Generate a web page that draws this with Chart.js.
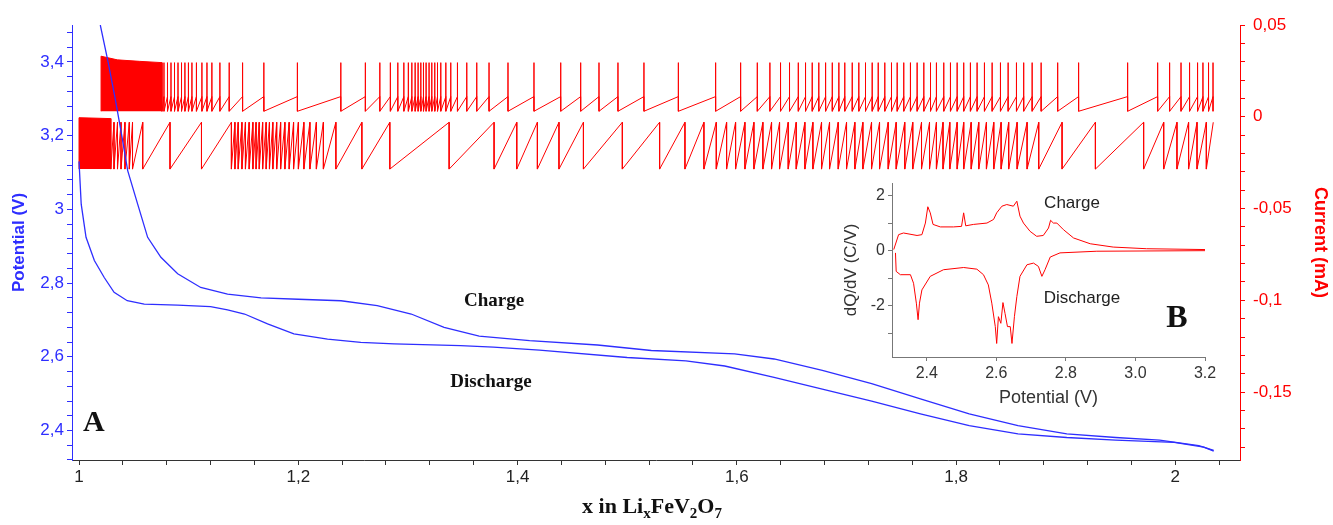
<!DOCTYPE html>
<html>
<head>
<meta charset="utf-8">
<script src="https://cdn.jsdelivr.net/npm/chart.js@4.4.1/dist/chart.umd.min.js"></script>
<style>
  html, body { margin: 0; padding: 0; background: #fff; }
  #wrap { position: relative; width: 1333px; height: 525px; }
  #main { position: absolute; left: 0; top: 0; }
  #inset { position: absolute; left: 835px; top: 170px; }
</style>
</head>
<body>
<div id="wrap">
  <canvas id="main" width="1333" height="525"></canvas>
  <canvas id="inset" width="385" height="245"></canvas>
</div>
<script>
// potential profiles, x in LixFeV2O7 vs V
const chargeX = [1.0194, 1.0265, 1.0330, 1.0390, 1.0444, 1.0535, 1.0626, 1.0747, 1.090, 1.111, 1.1355, 1.166, 1.200, 1.239, 1.272, 1.303, 1.333, 1.365, 1.411, 1.473, 1.522, 1.598, 1.634, 1.678, 1.723, 1.7675, 1.812, 1.8565, 1.901, 1.9456, 1.9857, 2.0214, 2.035];
const chargeV = [3.50, 3.40, 3.30, 3.20, 3.105, 3.014, 2.924, 2.870, 2.825, 2.788, 2.770, 2.760, 2.756, 2.752, 2.739, 2.716, 2.680, 2.656, 2.644, 2.632, 2.617, 2.608, 2.594, 2.563, 2.527, 2.486, 2.445, 2.413, 2.391, 2.381, 2.374, 2.359, 2.346];
const dischargeX = [1.000, 1.002, 1.0064, 1.014, 1.023, 1.032, 1.044, 1.0595, 1.090, 1.120, 1.1355, 1.151, 1.172, 1.196, 1.2267, 1.257, 1.2875, 1.348, 1.378, 1.420, 1.500, 1.5536, 1.589, 1.634, 1.678, 1.723, 1.7675, 1.812, 1.8565, 1.901, 1.9456, 1.999, 2.026, 2.035];
const dischargeV = [3.13, 3.014, 2.924, 2.861, 2.815, 2.775, 2.752, 2.743, 2.740, 2.736, 2.727, 2.716, 2.689, 2.662, 2.648, 2.639, 2.635, 2.630, 2.626, 2.618, 2.598, 2.589, 2.575, 2.544, 2.512, 2.480, 2.445, 2.413, 2.391, 2.381, 2.374, 2.368, 2.355, 2.344];

// GITT current pulses (mA): dense start blocks, then one entry per pulse
const chargeBlockX = [1.0201, 1.0201, 1.035, 1.055, 1.0757, 1.0757];
const chargeBlockI = [0.003, 0.033, 0.031, 0.0302, 0.0295, 0.003];
const dischargeBlockX = [1.000, 1.000, 1.029, 1.029];
const dischargeBlockI = [-0.0285, -0.0005, -0.001, -0.0285];

const chargePulseX = [1.0775, 1.0807, 1.0839, 1.0871, 1.0903, 1.0935, 1.0966, 1.0998, 1.1030, 1.1071, 1.1121, 1.1167, 1.1212, 1.1285, 1.1370, 1.1492, 1.1686, 1.1992, 1.2388, 1.2612, 1.2744, 1.2840, 1.2908, 1.2963, 1.3004, 1.3036, 1.3066, 1.3093, 1.3118, 1.3142, 1.3166, 1.3193, 1.3218, 1.3245, 1.3270, 1.3300, 1.3346, 1.3391, 1.3452, 1.3537, 1.3628, 1.3740, 1.3913, 1.4150, 1.4394, 1.4576, 1.4743, 1.4916, 1.5153, 1.5467, 1.5807, 1.6035, 1.6187, 1.6302, 1.6399, 1.6481, 1.6561, 1.6627, 1.6688, 1.6748, 1.6810, 1.6871, 1.6931, 1.6985, 1.7053, 1.7113, 1.7174, 1.7235, 1.7290, 1.7350, 1.7411, 1.7463, 1.7523, 1.7584, 1.7645, 1.7706, 1.7767, 1.7821, 1.7888, 1.7949, 1.8010, 1.8070, 1.8131, 1.8192, 1.8259, 1.8329, 1.8405, 1.8475, 1.8551, 1.8617, 1.8694, 1.8776, 1.8927, 1.9118, 1.9565, 1.9839, 1.9948, 2.0052, 2.0130, 2.0203, 2.0252, 2.0303, 2.0344];
const chargeLevels = [0.003, 0.011, 0.0295]; // base, before pulse, pulse top

const dischargePulseX = [1.0319, 1.0351, 1.0383, 1.0419, 1.0459, 1.0488, 1.0581, 1.0830, 1.1117, 1.1390, 1.1422, 1.1452, 1.1486, 1.1518, 1.1552, 1.1586, 1.1615, 1.1644, 1.1675, 1.1707, 1.1737, 1.1768, 1.1803, 1.1839, 1.1878, 1.1917, 1.1957, 1.2001, 1.2051, 1.2106, 1.2165, 1.2229, 1.2343, 1.2580, 1.2835, 1.3376, 1.3786, 1.3993, 1.4181, 1.4378, 1.4601, 1.4956, 1.5296, 1.5527, 1.5700, 1.5813, 1.5907, 1.5989, 1.6074, 1.6156, 1.6238, 1.6317, 1.6390, 1.6469, 1.6542, 1.6621, 1.6694, 1.6773, 1.6846, 1.6925, 1.7001, 1.7077, 1.7150, 1.7229, 1.7302, 1.7381, 1.7454, 1.7532, 1.7605, 1.7685, 1.7758, 1.7821, 1.7881, 1.7943, 1.8010, 1.8070, 1.8138, 1.8207, 1.8277, 1.8344, 1.8411, 1.8480, 1.8557, 1.8648, 1.8754, 1.8967, 1.9271, 1.9711, 1.9894, 2.0015, 2.0121, 2.0198, 2.0283, 2.0346];
const dischargeLevels = [-0.0285, -0.003]; // pulse bottom, relaxed top

// inset B: dQ/dV
const insetChargeV = [2.305, 2.319, 2.333, 2.372, 2.386, 2.396, 2.403, 2.41, 2.418, 2.439, 2.477, 2.500, 2.506, 2.512, 2.534, 2.573, 2.592, 2.601, 2.616, 2.63, 2.649, 2.659, 2.668, 2.678, 2.697, 2.716, 2.735, 2.75, 2.756, 2.764, 2.774, 2.793, 2.822, 2.87, 2.936, 3.032, 3.2];
const insetChargeQ = [0.04, 0.58, 0.64, 0.55, 0.58, 1.0, 1.59, 1.37, 0.95, 0.86, 0.86, 0.88, 1.37, 0.9, 0.95, 1.0, 1.13, 1.37, 1.61, 1.67, 1.61, 1.79, 1.25, 1.0, 0.70, 0.52, 0.55, 0.82, 1.10, 1.0, 1.0, 0.76, 0.46, 0.25, 0.13, 0.07, 0.04];
const insetDischV = [2.31, 2.312, 2.324, 2.353, 2.362, 2.37, 2.375, 2.379, 2.386, 2.41, 2.448, 2.506, 2.544, 2.563, 2.577, 2.587, 2.597, 2.601, 2.606, 2.613, 2.619, 2.625, 2.632, 2.64, 2.645, 2.652, 2.659, 2.668, 2.688, 2.707, 2.721, 2.731, 2.74, 2.755, 2.783, 2.889, 3.2];
const insetDischQ = [-0.08, -0.75, -0.87, -0.87, -1.18, -1.9, -2.5, -1.9, -1.42, -0.93, -0.69, -0.61, -0.67, -0.87, -1.24, -1.9, -2.75, -3.36, -2.39, -2.63, -1.88, -2.27, -2.75, -2.75, -3.36, -2.39, -1.66, -0.93, -0.51, -0.45, -0.57, -0.93, -0.69, -0.23, -0.08, -0.02, 0.0];

const BLUE = '#2e2eff';
const RED = '#ff0000';

function pts(xs, ys) {
  return xs.map((x, i) => ({ x: x, y: ys[i] }));
}

// charge pulses: rise to the pulse, spike, back to base
let chargePulses = [{ x: chargeBlockX[chargeBlockX.length - 1], y: chargeLevels[0] }];
chargePulseX.forEach(x => {
  chargePulses.push({ x: x, y: chargeLevels[1] });
  chargePulses.push({ x: x, y: chargeLevels[2] });
  chargePulses.push({ x: x, y: chargeLevels[0] });
});

// discharge pulses: relax up to the top, then drop
let dischargePulses = [{ x: dischargeBlockX[dischargeBlockX.length - 1], y: dischargeLevels[0] }];
dischargePulseX.forEach((x, i) => {
  dischargePulses.push({ x: x, y: dischargeLevels[1] });
  if (i < dischargePulseX.length - 1) dischargePulses.push({ x: x, y: dischargeLevels[0] });
});

function comma(v, d) {
  return String(Math.round(v * d) / d).replace('.', ',');
}

const textPlugin = {
  id: 'texts',
  afterDraw(chart) {
    const c = chart.ctx;
    c.save();
    c.fillStyle = '#111';
    c.textBaseline = 'alphabetic';
    c.font = 'bold 30px "Liberation Serif"';
    c.textAlign = 'left';
    c.fillText('A', 83, 431);
    c.font = 'bold 19px "Liberation Serif"';
    c.textAlign = 'center';
    c.fillText('Charge', 494, 306);
    c.fillText('Discharge', 491, 387);

    // axis title with subscripts
    const parts = [['x in Li', 0], ['x', 1], ['FeV', 0], ['2', 1], ['O', 0], ['7', 1]];
    const big = 'bold 22px "Liberation Serif"';
    const small = 'bold 15px "Liberation Serif"';
    let w = 0;
    parts.forEach(p => { c.font = p[1] ? small : big; w += c.measureText(p[0]).width; });
    let x = 652 - w / 2;
    c.textAlign = 'left';
    parts.forEach(p => {
      c.font = p[1] ? small : big;
      c.fillText(p[0], x, p[1] ? 518 : 513);
      x += c.measureText(p[0]).width;
    });
    c.restore();
  }
};

new Chart(document.getElementById('main'), {
  type: 'line',
  data: {
    datasets: [
      { data: pts(chargeX, chargeV), yAxisID: 'y', borderColor: BLUE, borderWidth: 1.3, pointRadius: 0 },
      { data: pts(dischargeX, dischargeV), yAxisID: 'y', borderColor: BLUE, borderWidth: 1.3, pointRadius: 0 },
      { data: chargePulses, yAxisID: 'y2', borderColor: RED, borderWidth: 1, pointRadius: 0 },
      { data: dischargePulses, yAxisID: 'y2', borderColor: RED, borderWidth: 1, pointRadius: 0 },
      { data: pts(chargeBlockX, chargeBlockI), yAxisID: 'y2', borderColor: RED, backgroundColor: RED, borderWidth: 1, pointRadius: 0, fill: { value: chargeLevels[0] } },
      { data: pts(dischargeBlockX, dischargeBlockI), yAxisID: 'y2', borderColor: RED, backgroundColor: RED, borderWidth: 1, pointRadius: 0, fill: { value: dischargeLevels[0] } }
    ]
  },
  options: {
    responsive: false,
    animation: false,
    layout: { padding: { top: 25, left: 0, right: 0, bottom: 0 } },
    plugins: { legend: { display: false }, tooltip: { enabled: false } },
    scales: {
      x: {
        type: 'linear', min: 0.9936, max: 2.059,
        border: { color: '#333', width: 1 },
        grid: { drawOnChartArea: false, tickLength: 5, tickColor: '#333' },
        ticks: {
          stepSize: 0.04, autoSkip: false, includeBounds: false, maxRotation: 0, padding: 2,
          color: '#222', font: { family: 'Liberation Sans', size: 17 },
          callback: v => Math.abs(v * 5 - Math.round(v * 5)) < 1e-6 ? comma(v, 10) : ''
        },
        afterFit: s => { s.height = 65; }
      },
      y: {
        position: 'left', min: 2.32, max: 3.5,
        border: { color: BLUE, width: 1 },
        grid: { drawOnChartArea: false, tickLength: 5, tickColor: BLUE },
        ticks: {
          stepSize: 0.04, autoSkip: false, includeBounds: false, padding: 3,
          color: BLUE, font: { family: 'Liberation Sans', size: 17 },
          callback: v => Math.abs(v * 5 - Math.round(v * 5)) < 1e-6 ? comma(v, 10) : ''
        },
        title: { display: true, text: 'Potential (V)', color: BLUE, font: { family: 'Liberation Sans', size: 17, weight: 'bold' }, padding: { top: 9, bottom: 0 } },
        afterFit: s => { s.width = 72; }
      },
      y2: {
        position: 'right', min: -0.187, max: 0.05,
        border: { color: RED, width: 1 },
        grid: { drawOnChartArea: false, tickLength: 5, tickColor: RED },
        ticks: {
          stepSize: 0.01, autoSkip: false, includeBounds: false, padding: 8,
          color: RED, font: { family: 'Liberation Sans', size: 17 },
          callback: v => Math.abs(v * 20 - Math.round(v * 20)) < 1e-6 ? comma(v, 100) : ''
        },
        title: { display: true, text: 'Current (mA)', color: RED, font: { family: 'Liberation Sans', size: 18, weight: 'bold' }, padding: { top: 2, bottom: 0 } },
        afterFit: s => { s.width = 93; }
      }
    }
  },
  plugins: [textPlugin]
});

const insetText = {
  id: 'insetText',
  afterDraw(chart) {
    const c = chart.ctx;
    c.save();
    c.fillStyle = '#222';
    c.textAlign = 'center';
    c.textBaseline = 'middle';
    c.font = '17px "Liberation Sans"';
    c.fillText('Charge', 237, 33);
    c.fillText('Discharge', 247, 128);
    c.fillStyle = '#111';
    c.font = 'bold 32px "Liberation Serif"';
    c.fillText('B', 342, 149);
    c.restore();
  }
};

new Chart(document.getElementById('inset'), {
  type: 'line',
  data: {
    datasets: [
      { data: pts(insetChargeV, insetChargeQ), borderColor: RED, borderWidth: 1, pointRadius: 0 },
      { data: pts(insetDischV, insetDischQ), borderColor: RED, borderWidth: 1, pointRadius: 0 }
    ]
  },
  options: {
    responsive: false,
    animation: false,
    layout: { padding: { top: 13, right: 15, left: 0, bottom: 0 } },
    plugins: { legend: { display: false }, tooltip: { enabled: false } },
    scales: {
      x: {
        type: 'linear', min: 2.3, max: 3.2,
        border: { color: '#777', width: 1 },
        grid: { drawOnChartArea: false, tickLength: 4, tickColor: '#777' },
        ticks: {
          stepSize: 0.2, autoSkip: false, includeBounds: false, maxRotation: 0, padding: 3,
          color: '#333', font: { family: 'Liberation Sans', size: 16 },
          callback: v => v.toFixed(1)
        },
        title: { display: true, text: 'Potential (V)', color: '#333', font: { family: 'Liberation Sans', size: 18 }, padding: { top: 0, bottom: 6 } },
        afterFit: s => { s.height = 58; }
      },
      y: {
        min: -3.85, max: 2.45,
        border: { color: '#777', width: 1 },
        grid: { drawOnChartArea: false, tickLength: 4, tickColor: '#777' },
        ticks: {
          stepSize: 1, autoSkip: false, includeBounds: false, padding: 3,
          color: '#333', font: { family: 'Liberation Sans', size: 16 },
          callback: v => Math.round(v) % 2 === 0 ? String(Math.round(v)) : ''
        },
        title: { display: true, text: 'dQ/dV (C/V)', color: '#333', font: { family: 'Liberation Sans', size: 17 }, padding: { top: 6, bottom: 0 } },
        afterFit: s => { s.width = 57; }
      }
    }
  },
  plugins: [insetText]
});
</script>
</body>
</html>
